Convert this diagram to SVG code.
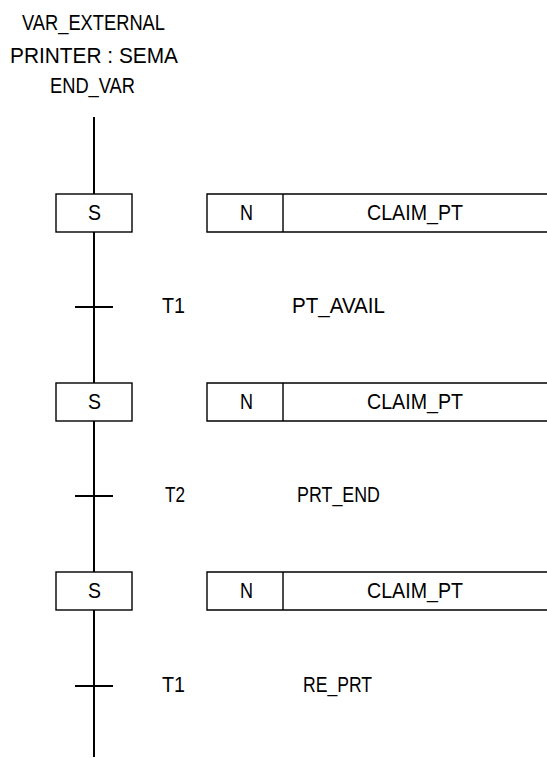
<svg xmlns="http://www.w3.org/2000/svg" width="547" height="758" viewBox="0 0 547 758">
<style>
text{font-family:"Liberation Sans",Arial,sans-serif;font-size:22.5px;fill:#000}
.box{fill:#fff;stroke:#000;stroke-width:1.4}
.ln{stroke:#000;stroke-width:2;fill:none}
</style>
<rect width="547" height="758" fill="#fff"/>
<g id="header">
<text x="22" y="30" textLength="143" lengthAdjust="spacingAndGlyphs">VAR_EXTERNAL</text>
<text x="10" y="63" textLength="168" lengthAdjust="spacingAndGlyphs">PRINTER : SEMA</text>
<text x="50" y="93" textLength="85" lengthAdjust="spacingAndGlyphs">END_VAR</text>
</g>
<g id="connectors">
<line class="ln" x1="94" y1="117" x2="94" y2="757"/>
<line class="ln" x1="75" y1="307" x2="113" y2="307"/>
<line class="ln" x1="75" y1="496" x2="113" y2="496"/>
<line class="ln" x1="75" y1="686" x2="113" y2="686"/>
</g>
<g id="step1">
<rect class="box" x="56" y="194" width="76" height="38"/>
<text x="88" y="220" textLength="13" lengthAdjust="spacingAndGlyphs">S</text>
</g>
<g id="action1">
<path class="box" d="M548 194 H207 V232 H548 M283 194 V232"/>
<text x="240" y="220" textLength="13" lengthAdjust="spacingAndGlyphs">N</text>
<text x="367" y="220" textLength="96" lengthAdjust="spacingAndGlyphs">CLAIM_PT</text>
</g>
<g id="trans1">
<text x="162" y="313" textLength="23" lengthAdjust="spacingAndGlyphs">T1</text>
<text x="292" y="313" textLength="93" lengthAdjust="spacingAndGlyphs">PT_AVAIL</text>
</g>
<g id="step2">
<rect class="box" x="56" y="383" width="76" height="38"/>
<text x="88" y="409" textLength="13" lengthAdjust="spacingAndGlyphs">S</text>
</g>
<g id="action2">
<path class="box" d="M548 383 H207 V421 H548 M283 383 V421"/>
<text x="240" y="409" textLength="13" lengthAdjust="spacingAndGlyphs">N</text>
<text x="367" y="409" textLength="96" lengthAdjust="spacingAndGlyphs">CLAIM_PT</text>
</g>
<g id="trans2">
<text x="165" y="502" textLength="20" lengthAdjust="spacingAndGlyphs">T2</text>
<text x="297" y="502" textLength="83" lengthAdjust="spacingAndGlyphs">PRT_END</text>
</g>
<g id="step3">
<rect class="box" x="56" y="572" width="76" height="38"/>
<text x="88" y="598" textLength="13" lengthAdjust="spacingAndGlyphs">S</text>
</g>
<g id="action3">
<path class="box" d="M548 572 H207 V610 H548 M283 572 V610"/>
<text x="240" y="598" textLength="13" lengthAdjust="spacingAndGlyphs">N</text>
<text x="367" y="598" textLength="96" lengthAdjust="spacingAndGlyphs">CLAIM_PT</text>
</g>
<g id="trans3">
<text x="162" y="692" textLength="23" lengthAdjust="spacingAndGlyphs">T1</text>
<text x="303" y="692" textLength="69" lengthAdjust="spacingAndGlyphs">RE_PRT</text>
</g>
</svg>
